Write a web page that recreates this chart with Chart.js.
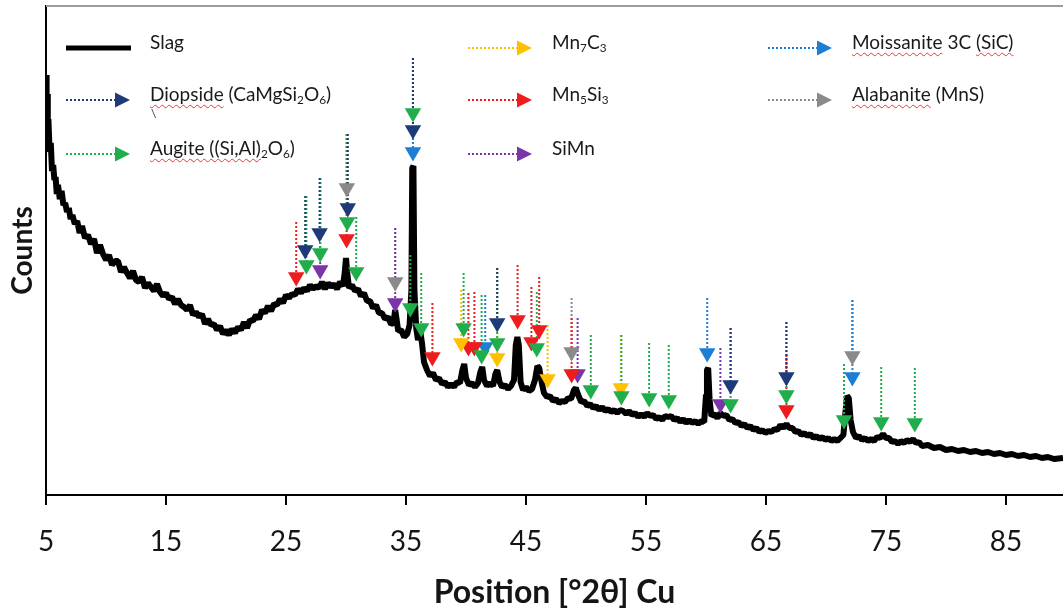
<!DOCTYPE html>
<html>
<head>
<meta charset="utf-8">
<title>XRD pattern of slag</title>
<script src="https://cdn.jsdelivr.net/npm/chart.js@4.4.1/dist/chart.umd.min.js"></script>
<style>
  html, body { margin: 0; padding: 0; background: #fff; }
  #wrap { position: relative; width: 1063px; height: 612px; overflow: hidden; }
  #xrd { position: absolute; left: 0; top: 0; }
  .key {
    position: absolute;
    font-family: Lato, "Open Sans", sans-serif;
    font-size: 19px;
    line-height: 22px;
    color: #1a1a1a;
    white-space: nowrap;
  }
  .key sub { font-size: 0.62em; vertical-align: -0.22em; line-height: 0; }
  .spell {
    text-decoration: underline wavy #e23b3b;
    text-decoration-thickness: 1px;
    text-underline-offset: 3px;
  }
  .stray { position: absolute; font-family: Lato, sans-serif; font-size: 12px; color: #333; }
</style>
</head>
<body>
<div id="wrap">
  <canvas id="xrd" width="1063" height="612"></canvas>
</div>
<script>
// ---- data -------------------------------------------------------------
const xTicks = [5, 15, 25, 35, 45, 55, 65, 75, 85]

// measured slag pattern (2theta, counts)
const slagPos = [
  5.00, 5.05, 5.10, 5.15, 5.20, 5.30, 5.40, 5.50, 5.60, 5.70, 5.80, 5.90, 6.00, 6.15, 6.30, 6.45, 6.60, 6.75, 6.90,
  7.05, 7.20, 7.40, 7.60, 7.80, 8.00, 8.25, 8.50, 8.75, 9.00, 9.25, 9.50, 9.75, 10.00, 10.25, 10.50, 10.75,
  11.00, 11.25, 11.50, 11.75, 12.00, 12.25, 12.50, 12.75, 13.00, 13.25, 13.50, 13.75, 14.00, 14.25, 14.50, 14.75,
  15.00, 15.25, 15.50, 15.75, 16.00, 16.25, 16.50, 16.75, 17.00, 17.25, 17.50, 17.75, 18.00, 18.25, 18.50, 18.75,
  19.00, 19.25, 19.50, 19.75, 20.00, 20.25, 20.50, 20.75, 21.00, 21.25, 21.50, 21.75, 22.00, 22.25, 22.50, 22.75,
  23.00, 23.25, 23.50, 23.75, 24.00, 24.25, 24.50, 24.75, 25.00, 25.25, 25.50, 25.75, 26.00, 26.25, 26.50, 26.75,
  27.00, 27.25, 27.50, 27.75, 28.00, 28.25, 28.50, 28.75, 29.00, 29.25, 29.50, 29.75, 29.90, 30.00, 30.10, 30.25,
  30.50, 30.75, 31.00, 31.25, 31.50, 31.75, 32.00, 32.25, 32.50, 32.75, 33.00, 33.25, 33.50, 33.75, 33.95, 34.10,
  34.20, 34.35, 34.60, 34.85, 35.10, 35.30, 35.45, 35.52, 35.62, 35.70, 35.85, 36.00, 36.20, 36.35, 36.50, 36.75,
  37.00, 37.25, 37.50, 37.75, 38.00, 38.25, 38.50, 38.75, 39.00, 39.25, 39.50, 39.70, 39.85, 40.00, 40.25, 40.50,
  40.75, 41.00, 41.20, 41.35, 41.50, 41.75, 42.00, 42.25, 42.45, 42.60, 42.80, 43.00, 43.25, 43.50, 43.75, 44.00,
  44.15, 44.28, 44.40, 44.55, 44.75, 45.00, 45.25, 45.50, 45.75, 45.95, 46.10, 46.30, 46.50, 46.75, 47.00, 47.25,
  47.50, 47.75, 48.00, 48.25, 48.50, 48.75, 49.00, 49.15, 49.35, 49.60, 49.85, 50.10, 50.35, 50.60, 50.85, 51.10,
  51.35, 51.60, 51.85, 52.10, 52.35, 52.60, 52.85, 53.10, 53.35, 53.60, 53.85, 54.10, 54.35, 54.60, 54.85, 55.10,
  55.35, 55.60, 55.85, 56.10, 56.35, 56.60, 56.85, 57.10, 57.35, 57.60, 57.85, 58.10, 58.35, 58.60, 58.85, 59.10,
  59.35, 59.60, 59.85, 60.00, 60.08, 60.18, 60.30, 60.45, 60.70, 60.95, 61.20, 61.45, 61.70, 61.95, 62.20, 62.45,
  62.70, 62.95, 63.20, 63.45, 63.70, 63.95, 64.20, 64.45, 64.70, 64.95, 65.20, 65.45, 65.70, 65.95, 66.20, 66.45,
  66.70, 66.95, 67.20, 67.45, 67.70, 67.95, 68.20, 68.45, 68.70, 68.95, 69.20, 69.45, 69.70, 69.95, 70.20, 70.45,
  70.70, 70.95, 71.20, 71.45, 71.60, 71.75, 71.90, 72.05, 72.25, 72.50, 72.75, 73.00, 73.25, 73.50, 73.75, 74.00,
  74.25, 74.50, 74.75, 75.00, 75.25, 75.50, 75.75, 76.00, 76.25, 76.50, 76.75, 77.00, 77.25, 77.50, 77.75, 78.00,
  78.50, 79.00, 79.50, 80.00, 80.50, 81.00, 81.50, 82.00, 82.50, 83.00, 83.50, 84.00, 84.50, 85.00, 85.50, 86.00,
  86.50, 87.00, 87.50, 88.00, 88.50, 89.00, 89.75
]
const slagCounts = [
  4250, 4020, 4060, 3720, 3810, 3480, 3570, 3290, 3350, 3200, 3230, 3060, 3150, 3010, 3090, 2950, 2970, 2880, 2920,
  2810, 2850, 2760, 2790, 2670, 2740, 2620, 2650, 2560, 2610, 2470, 2550, 2460, 2400, 2450, 2350, 2390,
  2390, 2280, 2330, 2270, 2220, 2290, 2200, 2180, 2230, 2120, 2170, 2130, 2090, 2160, 2080, 2040,
  2070, 2010, 2030, 1960, 2010, 1950, 1930, 1900, 1950, 1850, 1880, 1830, 1860, 1760, 1810, 1750,
  1760, 1700, 1740, 1660, 1700, 1650, 1710, 1670, 1730, 1700, 1780, 1720, 1800, 1790, 1850, 1810,
  1900, 1870, 1940, 1890, 1960, 1950, 2010, 1970, 2050, 2020, 2060, 2050, 2110, 2070, 2120, 2090,
  2150, 2110, 2140, 2120, 2180, 2110, 2170, 2130, 2160, 2110, 2180, 2140, 2280, 2420, 2280, 2120,
  2150, 2090, 2110, 2040, 2070, 1990, 1990, 1920, 1950, 1870, 1870, 1810, 1830, 1760, 1770, 1900,
  1820, 1690, 1700, 1630, 1660, 1750, 2100, 3320, 3340, 2100, 1720, 1600, 1680, 1550, 1380, 1300,
  1240, 1270, 1200, 1220, 1160, 1180, 1130, 1160, 1130, 1180, 1170, 1300, 1360, 1220, 1150, 1170,
  1130, 1170, 1280, 1330, 1200, 1140, 1170, 1140, 1260, 1300, 1180, 1130, 1150, 1110, 1140, 1200,
  1550, 1630, 1550, 1180, 1100, 1130, 1090, 1110, 1200, 1340, 1320, 1180, 1070, 1030, 1040, 990,
  1010, 970, 990, 980, 1020, 1010, 1100, 1120, 1050, 980, 990, 940, 960, 920, 940, 900,
  930, 890, 910, 880, 900, 870, 900, 890, 860, 890, 850, 870, 830, 860, 830, 870,
  840, 850, 810, 830, 800, 840, 830, 840, 800, 820, 780, 810, 770, 800, 770, 790,
  760, 790, 780, 1050, 1300, 1320, 1000, 840, 860, 820, 870, 840, 850, 800, 810, 770,
  780, 740, 760, 720, 740, 700, 720, 680, 700, 670, 690, 680, 710, 700, 750, 720,
  760, 720, 720, 680, 690, 650, 670, 640, 660, 620, 640, 610, 630, 600, 620, 590,
  610, 590, 620, 650, 850, 1040, 1020, 800, 680, 620, 640, 600, 620, 590, 610, 590,
  630, 620, 660, 620, 620, 580, 590, 560, 590, 570, 600, 580, 610, 570, 580, 540,
  550, 520, 530, 500, 510, 490, 500, 480, 490, 470, 480, 460, 470, 450, 460, 440,
  450, 430, 440, 420, 430, 410, 420
]

// reference-pattern markers per phase: 2theta, stem start, marker centre (counts)
const diopsidePos = [26.6, 27.8, 30.15, 35.58, 42.6, 62.05, 66.7]
const diopsideTop = [3040, 3220, 3660, 4420, 2320, 1720, 1780]
const diopsideMark = [2500, 2670, 2920, 3700, 1770, 1150, 1230]

const augitePos = [26.7, 27.85, 30.1, 30.85, 35.36, 35.58, 36.27, 39.8, 41.3, 42.6, 45.9, 50.4, 52.95, 55.26, 56.9, 62.05, 66.7, 71.5, 74.6, 77.4]
const augiteTop = [3040, 3220, 3660, 2830, 2450, 4420, 2270, 2270, 2050, 2320, 2080, 1650, 1650, 1570, 1550, 1720, 1780, 1360, 1330, 1320]
const augiteMark = [2350, 2470, 2780, 2280, 1920, 3870, 1720, 1720, 1450, 1570, 1520, 1100, 1040, 1020, 1000, 960, 1050, 800, 780, 770]

const mn7c3Pos = [39.6, 42.6, 46.8, 52.9]
const mn7c3Top = [2100, 2320, 1750, 1650]
const mn7c3Mark = [1570, 1420, 1210, 1120]

const mn5si3Pos = [25.85, 30.05, 37.2, 40.2, 40.7, 44.3, 45.45, 46.1, 48.8, 66.7]
const mn5si3Top = [2780, 3660, 1970, 2070, 2080, 2350, 2130, 2230, 1820, 1450]
const mn5si3Mark = [2230, 2610, 1430, 1530, 1530, 1800, 1580, 1700, 1260, 900]

const simnPos = [27.85, 34.1, 49.3, 61.2]
const simnTop = [3220, 2720, 1820, 1520]
const simnMark = [2300, 1970, 1260, 960]

const moissanitePos = [35.58, 41.6, 60.1, 72.2]
const moissaniteTop = [4420, 2050, 2020, 2000]
const moissaniteMark = [3480, 1530, 1470, 1230]

const alabanitePos = [30.07, 34.1, 48.8, 72.2]
const alabaniteTop = [3660, 2720, 2020, 2000]
const alabaniteMark = [3120, 2180, 1480, 1440]

const phaseNames = ['Diopside', 'Augite', 'Mn7C3', 'Mn5Si3', 'SiMn', 'Moissanite 3C', 'Alabanite']
const phaseLabels = [
  '<span class="spell">Diopside</span> (CaMgSi<sub>2</sub>O<sub>6</sub>)',
  '<span class="spell">Augite ((Si,Al)</span><sub>2</sub>O<sub>6</sub>)',
  'Mn<sub>7</sub>C<sub>3</sub>',
  'Mn<sub>5</sub>Si<sub>3</sub>',
  'SiMn',
  '<span class="spell">Moissanite</span> 3C <span class="spell">(SiC)</span>',
  '<span class="spell">Alabanite</span> (MnS)'
]
const phaseColors = ['#1f3a78', '#1fae4b', '#ffc000', '#ee1c1c', '#7a35a8', '#1b7fd4', '#8a8a8a']

// ---- layout -----------------------------------------------------------
// key rows: symbol start x, row y (slag first, then phases in order above)
const keySlots = [
  { x: 66, y: 48 },
  { x: 66, y: 100 }, { x: 66, y: 154 },
  { x: 468, y: 48 }, { x: 468, y: 100 }, { x: 468, y: 154 },
  { x: 768, y: 48 }, { x: 768, y: 100 }
]

const phases = [
  [diopsidePos, diopsideTop, diopsideMark],
  [augitePos, augiteTop, augiteMark],
  [mn7c3Pos, mn7c3Top, mn7c3Mark],
  [mn5si3Pos, mn5si3Top, mn5si3Mark],
  [simnPos, simnTop, simnMark],
  [moissanitePos, moissaniteTop, moissaniteMark],
  [alabanitePos, alabaniteTop, alabaniteMark]
].map(([pos, top, mark], i) => ({ name: phaseNames[i], label: phaseLabels[i], color: phaseColors[i], pos, top, mark }))

function stemPoints(p) {
  const pts = []
  p.pos.forEach((x, i) => {
    pts.push({ x, y: p.top[i] }, { x, y: p.mark[i] }, { x, y: null })
  })
  return pts
}

const datasets = [
  {
    label: 'Slag',
    data: slagPos.map((x, i) => ({ x, y: slagCounts[i] })),
    showLine: true,
    borderColor: '#000',
    borderWidth: 6,
    borderJoinStyle: 'bevel',
    pointRadius: 0,
    order: 3
  }
]
phases.forEach((p) => {
  datasets.push({
    label: p.name + ' stem',
    data: stemPoints(p),
    showLine: true,
    spanGaps: false,
    borderColor: p.color,
    borderWidth: 2,
    borderDash: [2, 2],
    pointRadius: 0,
    order: 2
  })
})
phases.forEach((p) => {
  datasets.push({
    label: p.name,
    data: p.pos.map((x, i) => ({ x, y: p.mark[i] })),
    showLine: false,
    pointStyle: 'triangle',
    pointRotation: 180,
    pointRadius: 9.5,
    pointHoverRadius: 9.5,
    pointBorderWidth: 0,
    pointBackgroundColor: p.color,
    order: 1
  })
})

// key symbols and the frame line along the top of the plot
const keyPlugin = {
  id: 'phaseKey',
  afterDraw(chart) {
    const { ctx, chartArea } = chart
    ctx.save()
    ctx.strokeStyle = '#9c9c9c'
    ctx.lineWidth = 2
    ctx.beginPath()
    ctx.moveTo(chartArea.left, chartArea.top)
    ctx.lineTo(chartArea.right, chartArea.top)
    ctx.stroke()

    const slag = keySlots[0]
    ctx.strokeStyle = '#000'
    ctx.lineWidth = 5
    ctx.beginPath()
    ctx.moveTo(slag.x, slag.y)
    ctx.lineTo(slag.x + 65, slag.y)
    ctx.stroke()

    phases.forEach((p, i) => {
      const s = keySlots[i + 1]
      ctx.strokeStyle = p.color
      ctx.lineWidth = 2
      ctx.setLineDash([2, 2])
      ctx.beginPath()
      ctx.moveTo(s.x, s.y)
      ctx.lineTo(s.x + 50, s.y)
      ctx.stroke()
      ctx.setLineDash([])
      ctx.fillStyle = p.color
      ctx.beginPath()
      ctx.moveTo(s.x + 49, s.y - 7.5)
      ctx.lineTo(s.x + 64, s.y)
      ctx.lineTo(s.x + 49, s.y + 7.5)
      ctx.closePath()
      ctx.fill()
    })
    ctx.restore()
  }
}

// key labels as text
const wrap = document.getElementById('wrap')
const keyTexts = ['Slag', ...phases.map((p) => p.label)]
keyTexts.forEach((html, i) => {
  const div = document.createElement('div')
  div.className = 'key'
  div.innerHTML = html
  div.style.left = (keySlots[i].x + 84) + 'px'
  div.style.top = (keySlots[i].y - 17) + 'px'
  wrap.appendChild(div)
})
const stray = document.createElement('div')
stray.className = 'stray'
stray.textContent = '\\'
stray.style.left = '151px'
stray.style.top = '106px'
wrap.appendChild(stray)

// ---- chart ------------------------------------------------------------
Chart.defaults.font.family = 'Lato'

new Chart(document.getElementById('xrd'), {
  type: 'scatter',
  data: { datasets },
  options: {
    responsive: false,
    animation: false,
    devicePixelRatio: 1,
    layout: { autoPadding: false, padding: { top: 6, right: 0, bottom: 0, left: 0 } },
    plugins: {
      legend: { display: false },
      tooltip: { enabled: false }
    },
    scales: {
      x: {
        type: 'linear',
        min: 5,
        max: 89.75,
        afterBuildTicks: (scale) => {
          scale.ticks = xTicks.map((v) => ({ value: v }))
        },
        afterFit: (scale) => {
          scale.height = 117
          scale.paddingLeft = 0
          scale.paddingRight = 0
        },
        grid: { drawOnChartArea: false, drawTicks: true, tickLength: 10, color: '#000', lineWidth: 2 },
        border: { color: '#000', width: 2 },
        ticks: {
          color: '#151515',
          font: { size: 28 },
          padding: 20,
          maxRotation: 0,
          autoSkip: false
        },
        title: {
          display: true,
          text: 'Position [°2θ] Cu',
          color: '#151515',
          font: { size: 32, weight: 'bold' },
          padding: { top: 0, bottom: 0 }
        }
      },
      y: {
        min: 50,
        max: 4940,
        afterFit: (scale) => {
          scale.width = 46
        },
        grid: { display: false },
        border: { color: '#000', width: 2 },
        ticks: { display: false },
        title: {
          display: true,
          text: 'Counts',
          color: '#151515',
          font: { size: 28, weight: 'bold' },
          padding: { top: 6, bottom: 0 }
        }
      }
    }
  },
  plugins: [keyPlugin]
})
</script>
</body>
</html>
